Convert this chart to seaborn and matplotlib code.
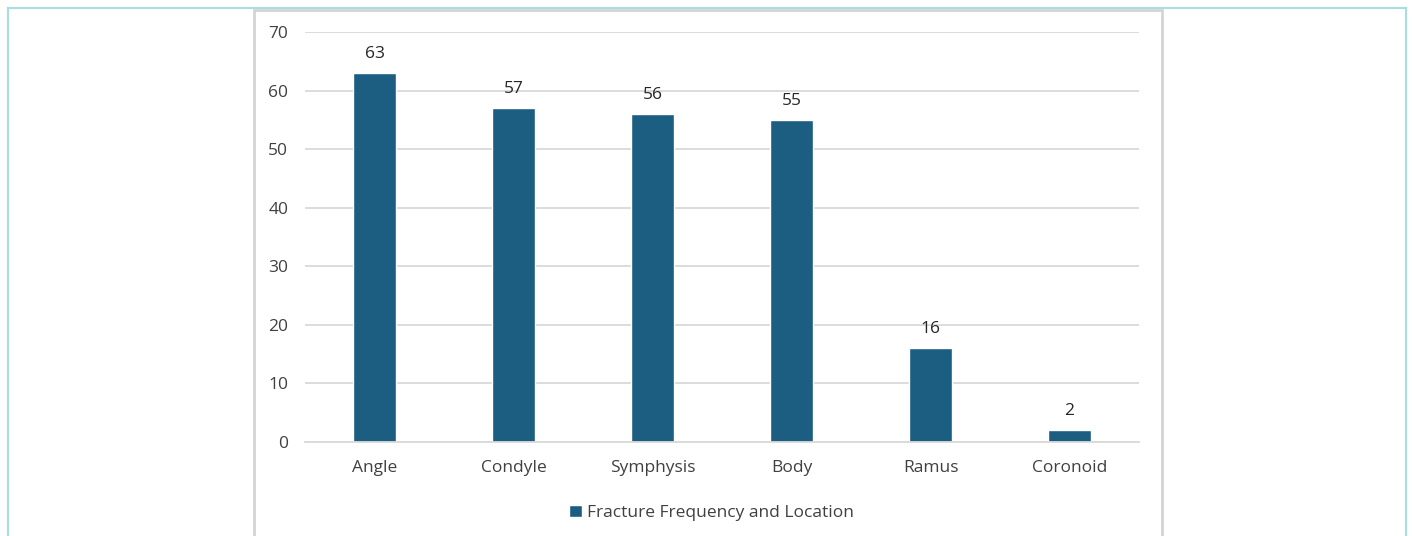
import matplotlib
matplotlib.use("Agg")
import matplotlib.pyplot as plt
import seaborn as sns
import pandas as pd
from matplotlib.patches import Rectangle

# Fracture sites and counts
locations = ["Angle", "Condyle", "Symphysis", "Body", "Ramus", "Coronoid"]
counts = [63, 57, 56, 55, 16, 2]
series_name = "Fracture Frequency and Location"
y_ticks = [0, 10, 20, 30, 40, 50, 60, 70]

df = pd.DataFrame({"Location": locations, "Count": counts, "Series": series_name})

sns.set_theme(style="white")
plt.rcParams["font.family"] = ["Open Sans", "DejaVu Sans"]

W, H = 1412, 536
fig = plt.figure(figsize=(W / 100, H / 100), dpi=100)

# outer frame and inner chart frame
fig.patches.append(Rectangle((8 / W, -0.01), (1406 - 8) / W, (H - 8) / H + 0.01,
                             transform=fig.transFigure, fill=False,
                             edgecolor="#A6DFE0", linewidth=1.5, zorder=0))
fig.patches.append(Rectangle((254 / W, -0.01), (1162 - 254) / W, (H - 10) / H + 0.01,
                             transform=fig.transFigure, fill=False,
                             edgecolor="#D4D4D4", linewidth=2, zorder=0))

ax = fig.add_axes([305 / W, (H - 442) / H, (1139 - 305) / W, (442 - 32) / H])
bar_color = "#1B5E82"
sns.barplot(data=df, x="Location", y="Count", hue="Series", palette=[bar_color],
            width=0.31, ax=ax, saturation=1, legend=True)

ax.set_ylim(0, 70)
ax.set_yticks(y_ticks)
ax.set_xlim(-0.5, len(locations) - 0.5)
ax.yaxis.grid(True, color="#D9D9D9", linewidth=1.3)
ax.set_axisbelow(True)
for s in ["top", "right", "left"]:
    ax.spines[s].set_visible(False)
ax.spines["bottom"].set_color("#D9D9D9")
ax.spines["bottom"].set_linewidth(1.3)
ax.tick_params(axis="y", length=0, pad=12, labelsize=12.5, labelcolor="#404040")
ax.tick_params(axis="x", length=0, pad=13, labelsize=12.5, labelcolor="#404040")
ax.set_xlabel("")
ax.set_ylabel("")

for container in ax.containers:
    ax.bar_label(container, labels=[str(v) for v in counts], padding=8,
                 fontsize=12.5, color="#262626")

leg = ax.legend(loc="upper center", bbox_to_anchor=(0.487, -0.115), frameon=False,
                fontsize=12.5, handlelength=0.75, handleheight=0.75, handletextpad=0.3,
                labelcolor="#404040")

fig.savefig("out.png", dpi=100, facecolor="white")
